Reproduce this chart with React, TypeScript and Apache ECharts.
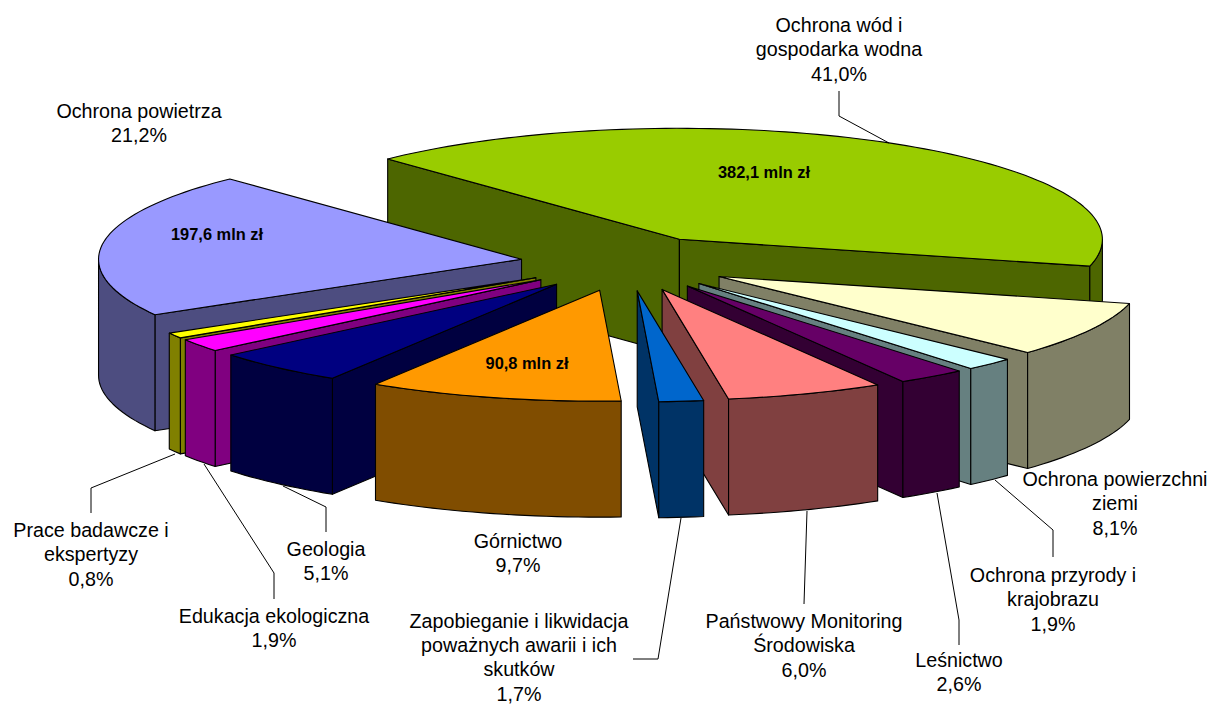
import React, { useEffect, useRef } from "react";
import * as echarts from "echarts";

// Slices clockwise, starting with the large green one
const sliceNames = [
  "Ochrona wód i gospodarka wodna",
  "Ochrona powierzchni ziemi",
  "Ochrona przyrody i krajobrazu",
  "Leśnictwo",
  "Państwowy Monitoring Środowiska",
  "Zapobieganie i likwidacja poważnych awarii i ich skutków",
  "Górnictwo",
  "Geologia",
  "Edukacja ekologiczna",
  "Prace badawcze i ekspertyzy",
  "Ochrona powietrza",
];
const sliceShares = [41.0, 8.1, 1.9, 2.6, 6.0, 1.7, 9.7, 5.1, 1.9, 0.8, 21.2];
const topColors = ["#99CC00", "#FFFFCC", "#CCFFFF", "#660066", "#FF8080", "#0066CC", "#FF9900", "#000080", "#FF00FF", "#FFFF00", "#9999FF"];
const wallColors = ["#4D6600", "#808066", "#668080", "#330033", "#804040", "#003366", "#804D00", "#000040", "#800080", "#808000", "#4D4D80"];
// Back-to-front painting order
const drawOrder = [0, 10, 9, 8, 7, 1, 2, 3, 4, 5, 6];

const FONT = '"Liberation Sans", Arial, sans-serif';

const outsideLabels = [
  { lines: ["Ochrona wód i", "gospodarka wodna", "41,0%"], x: 839, y: 25 },
  { lines: ["Ochrona powietrza", "21,2%"], x: 139, y: 111 },
  { lines: ["Ochrona powierzchni", "ziemi", "8,1%"], x: 1115, y: 479 },
  { lines: ["Ochrona przyrody i", "krajobrazu", "1,9%"], x: 1053, y: 575 },
  { lines: ["Leśnictwo", "2,6%"], x: 959, y: 660 },
  { lines: ["Państwowy Monitoring", "Środowiska", "6,0%"], x: 804, y: 621 },
  { lines: ["Zapobieganie i likwidacja", "poważnych awarii i ich", "skutków", "1,7%"], x: 519, y: 620.5 },
  { lines: ["Górnictwo", "9,7%"], x: 518, y: 541 },
  { lines: ["Geologia", "5,1%"], x: 326, y: 549 },
  { lines: ["Edukacja ekologiczna", "1,9%"], x: 274, y: 616 },
  { lines: ["Prace badawcze i", "ekspertyzy", "0,8%"], x: 91, y: 530 },
];
const valueLabels = [
  { text: "382,1 mln zł", x: 764, y: 172 },
  { text: "197,6 mln zł", x: 217, y: 234 },
  { text: "90,8 mln zł", x: 527, y: 363 },
];
const leaderLines = [
  [[839, 91], [839, 116], [889, 143]],
  [[91, 513], [91, 488], [175, 454]],
  [[274, 599], [274, 573], [204, 464]],
  [[326, 532], [326, 507], [283, 486]],
  [[633, 659], [658, 659], [681, 518]],
  [[807, 511], [804, 604]],
  [[937, 493], [959, 620], [959, 645]],
  [[995, 480], [1053, 530], [1053, 557]],
];

// Pie geometry
const CX = 626.2;
const CY = 263.3;
const RX = 423;
const RY = 111;
const DEPTH = 116;
const EXPLODE = 0.25;
const START_DEG = -133.6;

const total = sliceShares.reduce((a, b) => a + b, 0);
const startAngles: number[] = [];
sliceShares.reduce((acc, v, i) => {
  startAngles[i] = acc;
  return acc + (v / total) * 360;
}, START_DEG);

const rad = (d: number) => (d * Math.PI) / 180;

function arcPoints(x: number, y: number, a0: number, a1: number) {
  const n = Math.max(2, Math.ceil(Math.abs(a1 - a0) / 1.5));
  const pts: number[][] = [];
  for (let k = 0; k <= n; k++) {
    const a = rad(a0 + ((a1 - a0) * k) / n);
    pts.push([x + RX * Math.cos(a), y + RY * Math.sin(a)]);
  }
  return pts;
}

function renderSlice(params: any, api: any) {
  const idx = api.value(1);
  const share = api.value(0);
  const a0 = startAngles[idx];
  const a1 = a0 + (share / total) * 360;
  const mid = rad((a0 + a1) / 2);
  const ax = CX + EXPLODE * RX * Math.cos(mid);
  const ay = CY + EXPLODE * RY * Math.sin(mid);
  const face = (points: number[][], fill: string) => ({
    type: "polygon",
    shape: { points },
    silent: true,
    style: { fill, stroke: "#000", lineWidth: 1.1, lineJoin: "round" },
  });
  const radial = (a: number) => {
    const rimX = ax + RX * Math.cos(rad(a));
    const rimY = ay + RY * Math.sin(rad(a));
    return face(
      [[ax, ay], [rimX, rimY], [rimX, rimY + DEPTH], [ax, ay + DEPTH]],
      wallColors[idx],
    );
  };
  const children: any[] = [];
  // a cut face is seen only when the wedge lies above it on the screen
  if (Math.cos(rad(a0)) < 0) children.push(radial(a0));
  if (Math.cos(rad(a1)) > 0) children.push(radial(a1));
  // outer wall: only the part of the rim facing the viewer (0..180 degrees)
  for (const shift of [0, 360]) {
    const f0 = Math.max(a0, 0 + shift);
    const f1 = Math.min(a1, 180 + shift);
    if (f1 > f0) {
      const rim = arcPoints(ax, ay, f0, f1);
      const low = rim.map((p) => [p[0], p[1] + DEPTH]).reverse();
      children.push(face(rim.concat(low), wallColors[idx]));
    }
  }
  children.push(face([[ax, ay], ...arcPoints(ax, ay, a0, a1)], topColors[idx]));
  return { type: "group", children };
}

export default function App() {
  const ref = useRef<HTMLDivElement>(null);
  useEffect(() => {
    const chart = echarts.init(ref.current!, undefined, { renderer: "svg" });
    const texts: any[] = [];
    outsideLabels.forEach((l) => {
      l.lines.forEach((line, i) => {
        texts.push({
          type: "text",
          z: 20,
          silent: true,
          x: l.x,
          y: l.y + i * 24.4,
          style: { text: line, fill: "#000", font: `19.7px ${FONT}`, textAlign: "center", textVerticalAlign: "middle" },
        });
      });
    });
    valueLabels.forEach((l) => {
      texts.push({
        type: "text",
        z: 20,
        silent: true,
        x: l.x,
        y: l.y,
        style: { text: l.text, fill: "#000", font: `bold 16.4px ${FONT}`, textAlign: "center", textVerticalAlign: "middle" },
      });
    });
    const leaders = leaderLines.map((points) => ({
      type: "polyline",
      z: 19,
      silent: true,
      shape: { points },
      style: { stroke: "#000", lineWidth: 1, fill: "none" },
    }));
    chart.setOption({
      animation: false,
      backgroundColor: "#fff",
      graphic: { elements: [...leaders, ...texts] },
      series: [
        {
          type: "custom",
          coordinateSystem: "none",
          silent: true,
          renderItem: renderSlice,
          data: drawOrder.map((i) => ({ name: sliceNames[i], value: [sliceShares[i], i] })),
        },
      ],
    });
    return () => chart.dispose();
  }, []);
  return <div ref={ref} style={{ position: "fixed", left: 0, top: 0, width: 1209, height: 704 }} />;
}
